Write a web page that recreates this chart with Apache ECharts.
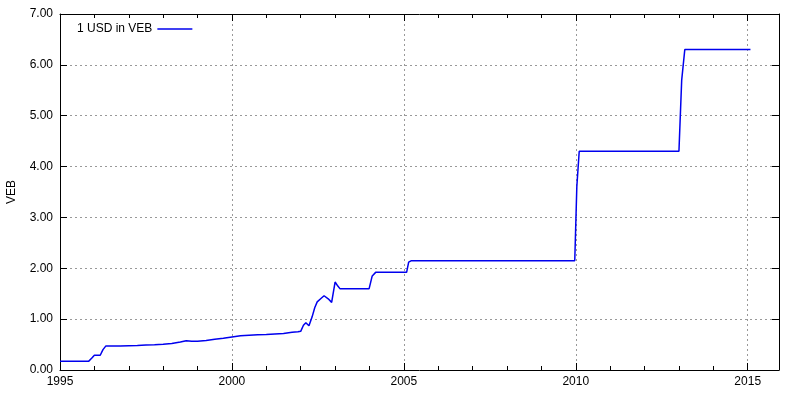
<!DOCTYPE html>
<html>
<head>
<meta charset="utf-8">
<script src="https://cdn.jsdelivr.net/npm/echarts@6/dist/echarts.min.js"></script>
<style>html,body{margin:0;padding:0;background:#fff}#c{width:800px;height:400px}</style>
</head>
<body>
<div id="c"></div>
<script>
var seriesName = '1 USD in VEB';
var years = [1995.00,1995.83,1995.92,1996.00,1996.17,1996.25,1996.33,1996.50,1996.75,1997.00,1997.25,1997.50,1997.75,1998.00,1998.25,1998.50,1998.67,1998.83,1999.00,1999.25,1999.50,1999.75,2000.00,2000.25,2000.50,2000.75,2001.00,2001.25,2001.50,2001.75,2001.92,2002.00,2002.08,2002.15,2002.24,2002.33,2002.41,2002.48,2002.58,2002.68,2002.80,2002.90,2003.00,2003.08,2003.14,2003.99,2004.08,2004.18,2005.08,2005.14,2005.22,2009.97,2010.03,2010.10,2013.00,2013.08,2013.17,2015.08];
var rates = [0.170,0.170,0.230,0.290,0.290,0.400,0.470,0.470,0.472,0.476,0.480,0.490,0.495,0.505,0.520,0.550,0.575,0.565,0.565,0.580,0.605,0.625,0.650,0.675,0.685,0.695,0.700,0.710,0.720,0.740,0.750,0.760,0.880,0.930,0.870,1.040,1.230,1.340,1.400,1.460,1.400,1.330,1.730,1.650,1.600,1.600,1.850,1.920,1.920,2.120,2.150,2.150,3.600,4.300,4.300,5.700,6.300,6.300];
var xTicks = [1995, 2000, 2005, 2010, 2015];
var yName = 'VEB';

var data = years.map(function (y, i) { return [y, rates[i]]; });
var font = 'Liberation Sans, Arial, sans-serif';
var chart = echarts.init(document.getElementById('c'), null, {renderer: 'canvas'});
var xMin = 1995, xMax = 2015.91;
function xAx(pos, labels) {
  return {
    type: 'value', position: pos, min: xMin, max: xMax, interval: 5,
    axisLine: {show: true, onZero: false, lineStyle: {color: '#000', width: 1}},
    axisTick: {show: true, inside: true, length: 7, lineStyle: {color: '#000'}},
    minorTick: {show: true, splitNumber: 5, length: 4, lineStyle: {color: '#000'}},
    axisLabel: {show: labels, color: '#000', fontFamily: font, fontSize: 12, margin: 6,
      formatter: function (v) { return xTicks.indexOf(Math.round(v)) >= 0 && Math.abs(v - Math.round(v)) < 1e-6 ? String(Math.round(v)) : ''; }},
    splitLine: {show: labels, lineStyle: {color: '#999', type: [2, 3], width: 1}}
  };
}
function yAx(pos, labels) {
  return {
    type: 'value', position: pos, min: 0, max: 7, interval: 1,
    name: labels ? yName : '', nameLocation: 'middle', nameRotate: 90, nameGap: 42,
    nameTextStyle: {color: '#000', fontFamily: font, fontSize: 12},
    axisLine: {show: true, onZero: false, lineStyle: {color: '#000', width: 1}},
    axisTick: {show: true, inside: true, length: 7, lineStyle: {color: '#000'}},
    axisLabel: {show: labels, color: '#000', fontFamily: font, fontSize: 12, margin: 7,
      formatter: function (v) { return v.toFixed(2); }},
    splitLine: {show: labels, lineStyle: {color: '#999', type: [2, 3], width: 1}}
  };
}
chart.setOption({
  animation: false,
  backgroundColor: '#fff',
  grid: {left: 60, right: 21, top: 14, bottom: 30, containLabel: false, outerBoundsMode: 'none'},
  legend: {
    show: true, left: 77, top: 23, padding: 0, align: 'right',
    itemWidth: 35, itemHeight: 14, itemGap: 10,
    textStyle: {color: '#000', fontFamily: font, fontSize: 12},
    data: [{name: seriesName, icon: 'path://M0,0 L35,0 L35,1.5 L0,1.5 Z'}],
    itemStyle: {color: '#0000ee'}
  },
  xAxis: [xAx('bottom', true), xAx('top', false)],
  yAxis: [yAx('left', true), yAx('right', false)],
  series: [{
    name: seriesName, type: 'line', data: data, showSymbol: false, symbol: 'none',
    lineStyle: {color: '#0000ee', width: 1.5}, itemStyle: {color: '#0000ee'}
  }]
});
</script>
</body>
</html>
